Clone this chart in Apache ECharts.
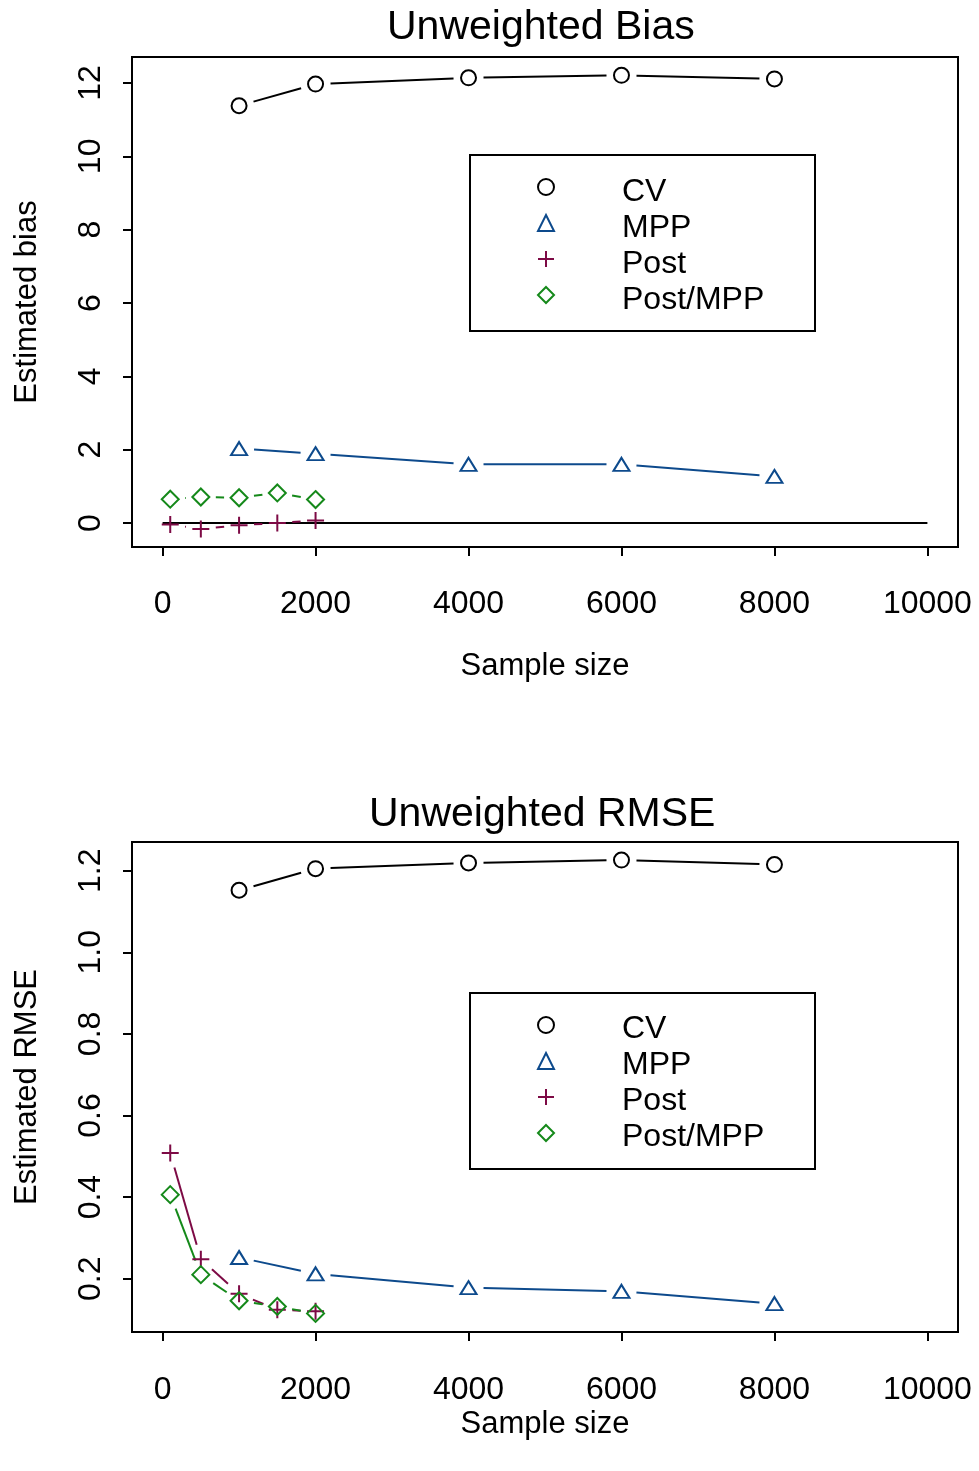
<!DOCTYPE html>
<html>
<head>
<meta charset="utf-8">
<script src="https://cdn.jsdelivr.net/npm/echarts@6/dist/echarts.min.js"></script>
<style>
html,body{margin:0;padding:0;background:#fff;}
#chart{width:979px;height:1471px;}
</style>
</head>
<body>
<div id="chart"></div>
<script>
// ---------- data ----------
const seriesNames = ['CV', 'MPP', 'Post', 'Post/MPP'];
const xLarge = [1000, 2000, 4000, 6000, 8000];   // CV, MPP sample sizes
const xSmall = [100, 500, 1000, 1500, 2000];      // Post, Post/MPP sample sizes

const biasCV      = [11.38, 11.97, 12.14, 12.21, 12.11];
const biasMPP     = [2.03, 1.89, 1.60, 1.60, 1.27];
const biasPost    = [-0.04, -0.16, -0.06, 0.00, 0.07];
const biasPostMPP = [0.65, 0.71, 0.69, 0.82, 0.64];

const rmseCV      = [1.152, 1.205, 1.219, 1.226, 1.215];
const rmseMPP     = [0.252, 0.212, 0.178, 0.169, 0.139];
const rmsePost    = [0.508, 0.248, 0.163, 0.124, 0.120];
const rmsePostMPP = [0.406, 0.210, 0.146, 0.132, 0.115];

const zeroLineX = [0, 10000];

const xTicks = [0, 2000, 4000, 6000, 8000, 10000];
const biasTicks = [0, 2, 4, 6, 8, 10, 12];
const rmseTicks = [0.2, 0.4, 0.6, 0.8, 1.0, 1.2];

// ---------- styles ----------
const FONT = 'Liberation Sans, Arial, sans-serif';
const colors = {'CV': '#000000', 'MPP': '#0d4a8c', 'Post': '#7d0a45', 'Post/MPP': '#15891a'};
const symbols = {
  'CV': {symbol: 'circle', size: 15},
  'MPP': {symbol: 'triangle', size: [16, 13]},
  'Post': {symbol: 'path://M0,8 L16,8 M8,0 L8,16', size: 17},
  'Post/MPP': {symbol: 'diamond', size: 17}
};
const GAP = 15;

function pairs(xs, ys) { return xs.map((x, i) => [x, ys[i]]); }
function segs(xs, ys) {
  const out = [];
  for (let i = 0; i < xs.length - 1; i++) out.push([xs[i], ys[i], xs[i + 1], ys[i + 1]]);
  return out;
}

function renderSeg(color) {
  return function (params, api) {
    const p1 = api.coord([api.value(0), api.value(1)]);
    const p2 = api.coord([api.value(2), api.value(3)]);
    const dx = p2[0] - p1[0], dy = p2[1] - p1[1];
    const d = Math.sqrt(dx * dx + dy * dy);
    if (d <= 2 * GAP) return null;
    const ux = dx / d, uy = dy / d;
    return {
      type: 'line',
      shape: {x1: p1[0] + ux * GAP, y1: p1[1] + uy * GAP, x2: p2[0] - ux * GAP, y2: p2[1] - uy * GAP},
      style: {stroke: color, lineWidth: 2}
    };
  };
}

function panelSeries(idx, data) {
  const out = [];
  data.forEach(([name, xs, ys]) => {
    out.push({
      type: 'custom', name: name + '_line', xAxisIndex: idx, yAxisIndex: idx,
      renderItem: renderSeg(colors[name]), encode: {x: [0, 2], y: [1, 3]},
      data: segs(xs, ys), silent: true, z: 2
    });
    out.push({
      type: 'scatter', name: name, xAxisIndex: idx, yAxisIndex: idx,
      symbol: symbols[name].symbol, symbolSize: symbols[name].size,
      itemStyle: {color: 'rgba(0,0,0,0)', borderColor: colors[name], borderWidth: 2, opacity: 1},
      emphasis: {disabled: true}, silent: true, z: 3,
      data: pairs(xs, ys)
    });
  });
  return out;
}

const series = [].concat(
  panelSeries(0, [['CV', xLarge, biasCV], ['MPP', xLarge, biasMPP], ['Post', xSmall, biasPost], ['Post/MPP', xSmall, biasPostMPP]]),
  panelSeries(1, [['CV', xLarge, rmseCV], ['MPP', xLarge, rmseMPP], ['Post', xSmall, rmsePost], ['Post/MPP', xSmall, rmsePostMPP]])
);
series.push({
  type: 'line', name: 'zero', xAxisIndex: 0, yAxisIndex: 0,
  data: zeroLineX.map(x => [x, 0]), symbol: 'none', silent: true,
  lineStyle: {color: '#000', width: 2}, z: 1
});

function xAxis(gi, margin, nameGap) {
  return {
    type: 'value', gridIndex: gi, min: -400, max: 10400,
    axisLine: {show: false, onZero: false}, splitLine: {show: false},
    axisTick: {show: true, length: 9, lineStyle: {color: '#000', width: 2}, customValues: xTicks},
    axisLabel: {color: '#000', fontSize: 32, fontFamily: FONT, margin: margin, customValues: xTicks, formatter: v => String(v)},
    name: 'Sample size', nameLocation: 'middle', nameGap: nameGap,
    nameTextStyle: {color: '#000', fontSize: 31, fontFamily: FONT}
  };
}
function yAxis(gi, min, max, ticks, name, fmt) {
  return {
    type: 'value', gridIndex: gi, min: min, max: max,
    axisLine: {show: false, onZero: false}, splitLine: {show: false},
    axisTick: {show: true, length: 9, lineStyle: {color: '#000', width: 2}, customValues: ticks},
    axisLabel: {color: '#000', fontSize: 32, fontFamily: FONT, margin: 25, rotate: 90, customValues: ticks, formatter: fmt},
    name: name, nameLocation: 'middle', nameGap: 89, nameRotate: 90,
    nameTextStyle: {color: '#000', fontSize: 31, fontFamily: FONT}
  };
}

// icon-only legend and text-only legend (text sits a little lower than the icon)
function legendIcons(top) {
  return {
    left: 537, top: top, orient: 'vertical', padding: 0, itemGap: 0,
    itemWidth: 16, itemHeight: 16, selectedMode: false,
    data: seriesNames,
    textStyle: {color: 'rgba(0,0,0,0)', fontSize: 32, fontFamily: FONT, lineHeight: 36}
  };
}
function legendText(top) {
  return {
    left: 537, top: top, orient: 'vertical', padding: 0, itemGap: 0,
    itemWidth: 16, itemHeight: 16, selectedMode: false,
    icon: 'rect',
    itemStyle: {color: 'rgba(0,0,0,0)', borderColor: 'rgba(0,0,0,0)', borderWidth: 0},
    data: seriesNames,
    textStyle: {color: '#000', fontSize: 32, fontFamily: FONT, lineHeight: 36, padding: [0, 0, 0, 64]}
  };
}

const option = {
  animation: false,
  backgroundColor: '#fff',
  title: [
    {text: 'Unweighted Bias', left: 382, top: 2,
     textStyle: {color: '#000', fontSize: 41, fontWeight: 'normal', fontFamily: FONT}},
    {text: 'Unweighted RMSE', left: 364, top: 789,
     textStyle: {color: '#000', fontSize: 41, fontWeight: 'normal', fontFamily: FONT}}
  ],
  grid: [
    {left: 132, top: 57, width: 826, height: 490, show: true, borderColor: '#000', borderWidth: 2, backgroundColor: 'transparent'},
    {left: 132, top: 842, width: 826, height: 490, show: true, borderColor: '#000', borderWidth: 2, backgroundColor: 'transparent'}
  ],
  xAxis: [xAxis(0, 41, 104), xAxis(1, 42, 77)],
  yAxis: [
    yAxis(0, -0.654, 12.709, biasTicks, 'Estimated bias', v => String(v)),
    yAxis(1, 0.0694, 1.2703, rmseTicks, 'Estimated RMSE', v => v.toFixed(1))
  ],
  legend: [legendIcons(169), legendText(174), legendIcons(1007), legendText(1011)],
  graphic: [
    {type: 'rect', shape: {x: 470, y: 155, width: 345, height: 176}, style: {fill: 'none', stroke: '#000', lineWidth: 2}, silent: true},
    {type: 'rect', shape: {x: 470, y: 993, width: 345, height: 176}, style: {fill: 'none', stroke: '#000', lineWidth: 2}, silent: true}
  ],
  series: series
};

const chart = echarts.init(document.getElementById('chart'), null, {renderer: 'canvas'});
chart.setOption(option);
</script>
</body>
</html>
